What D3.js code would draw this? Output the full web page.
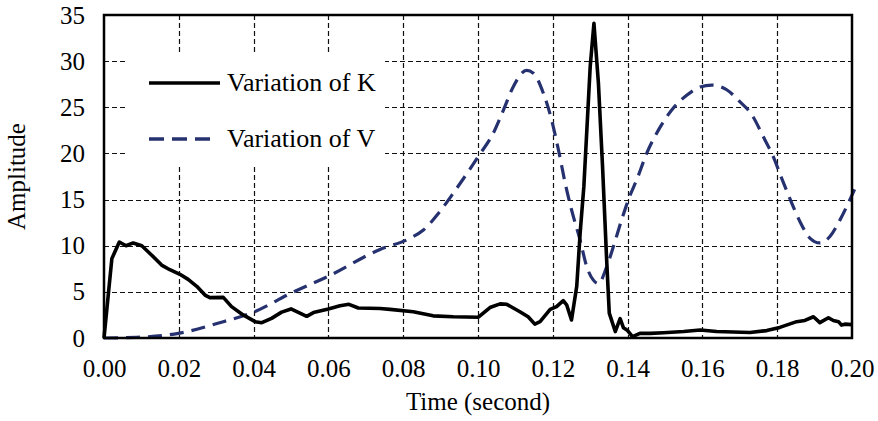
<!DOCTYPE html>
<head>
    <meta charset="UTF-8">
    <script src="https://cdnjs.cloudflare.com/ajax/libs/d3/7.8.5/d3.min.js"></script>
    <style>
        body { margin: 0; background: #fff; }
        text { font-family: "Liberation Serif", "Times New Roman", serif; fill: #000; }
    </style>
</head>

<body>
    <svg id="chart"></svg>

    <script>
        //********** DATOS *********************

        var xTicks = [0, 0.02, 0.04, 0.06, 0.08, 0.10, 0.12, 0.14, 0.16, 0.18, 0.20];
        var yTicks = [0, 5, 10, 15, 20, 25, 30, 35];
        var seriesNames = ["Variation of K", "Variation of V"];

        // Variation of K  [time, amplitude]
        var kTime = [0, 0.0021, 0.0041, 0.0059, 0.0078, 0.0101, 0.0127, 0.0154, 0.0176, 0.0203,
            0.0225, 0.0248, 0.027, 0.0283, 0.0319, 0.0341, 0.0372, 0.0404, 0.0422, 0.0448,
            0.0475, 0.05, 0.0542, 0.056, 0.06, 0.0631, 0.0655, 0.068, 0.0738, 0.0765,
            0.0827, 0.088, 0.0934, 0.1001, 0.1032, 0.1059, 0.1077, 0.1112, 0.1134, 0.1152,
            0.1166, 0.1193, 0.121, 0.1228, 0.1237, 0.125, 0.1264, 0.1273, 0.1283, 0.130,
            0.131, 0.1322, 0.1333, 0.1344, 0.1351, 0.1367, 0.138, 0.1389, 0.14, 0.1413,
            0.1433, 0.146, 0.1496, 0.155, 0.1594, 0.1638, 0.1727, 0.1772, 0.1807, 0.1852,
            0.1874, 0.1897, 0.1914, 0.1937, 0.195, 0.1964, 0.1972, 0.1981, 0.20];
        var kValues = [0, 8.6, 10.4, 10.0, 10.3, 10.0, 9.0, 7.9, 7.4, 6.9,
            6.35, 5.6, 4.65, 4.37, 4.4, 3.4, 2.5, 1.77, 1.66, 2.13,
            2.8, 3.15, 2.35, 2.75, 3.15, 3.5, 3.65, 3.25, 3.2, 3.1,
            2.85, 2.4, 2.3, 2.25, 3.3, 3.7, 3.65, 2.85, 2.3, 1.5,
            1.77, 3.1, 3.4, 4.05, 3.6, 1.95, 5.6, 11.3, 16.4, 29.4,
            34.1, 27.6, 18.6, 8.45, 2.7, 0.7, 2.1, 1.1, 0.8, 0.15,
            0.5, 0.5, 0.57, 0.7, 0.87, 0.7, 0.6, 0.8, 1.15, 1.77,
            1.9, 2.3, 1.66, 2.2, 1.9, 1.77, 1.4, 1.5, 1.45];

        // Variation of V  [time, amplitude]
        var vTime = [0, 0.0087, 0.0199, 0.0319, 0.04, 0.0497, 0.06, 0.0738, 0.0818, 0.0854,
            0.0894, 0.0934, 0.097, 0.1003, 0.1041, 0.1068, 0.1094, 0.113, 0.1148, 0.1175,
            0.1197, 0.1215, 0.1233, 0.125, 0.1273, 0.1291, 0.1308, 0.1322, 0.1344, 0.1362,
            0.1384, 0.1406, 0.1424, 0.1451, 0.1482, 0.1518, 0.1558, 0.1594, 0.1625, 0.1665,
            0.17, 0.1732, 0.1763, 0.179, 0.1812, 0.1834, 0.1861, 0.1888, 0.1914, 0.1941,
            0.1968, 0.199, 0.2007];
        var vValues = [0, 0.07, 0.5, 1.77, 2.8, 4.8, 6.7, 9.6, 10.8, 11.7,
            13.5, 15.7, 17.8, 19.8, 22.2, 24.7, 27.2, 29.0, 28.7, 26.5,
            23.6, 20.4, 16.8, 13.9, 10.6, 7.7, 6.3, 5.9, 7.7, 9.9,
            12.8, 15.4, 17.1, 20.0, 22.5, 24.7, 26.3, 27.2, 27.4, 26.9,
            25.6, 24.2, 21.8, 19.6, 17.3, 15.1, 12.6, 10.8, 10.3, 11.0,
            12.8, 14.6, 16.1];

        //********** DEFINICIONES *********************

        var width = 878, height = 421;
        var margin = { top: 15, right: 26, bottom: 83, left: 104 };
        var innerW = width - margin.left - margin.right;
        var innerH = height - margin.top - margin.bottom;
        var colorK = "#000000", colorV = "#263170";

        var svg = d3.select("#chart")
            .attr("width", width)
            .attr("height", height);

        var g = svg.append("g")
            .attr("transform", "translate(" + margin.left + "," + margin.top + ")");

        var x = d3.scaleLinear().domain([0, 0.20]).range([0, innerW]);
        var y = d3.scaleLinear().domain([0, 35]).range([innerH, 0]);

        //********** GRILLA *********************

        g.append("g")
            .attr("class", "grid")
            .selectAll("line")
            .data(xTicks.slice(1, -1))
            .enter().append("line")
            .attr("x1", function (d) { return Math.round(x(d)) + 0.5; })
            .attr("x2", function (d) { return Math.round(x(d)) + 0.5; })
            .attr("y1", 0).attr("y2", innerH);

        g.append("g")
            .attr("class", "grid")
            .selectAll("line")
            .data(yTicks.slice(1, -1))
            .enter().append("line")
            .attr("y1", function (d) { return Math.round(y(d)) + 0.5; })
            .attr("y2", function (d) { return Math.round(y(d)) + 0.5; })
            .attr("x1", 0).attr("x2", innerW);

        g.selectAll(".grid line")
            .style("stroke", "#111")
            .style("stroke-width", 1.2)
            .style("stroke-dasharray", "5,3");

        //********** LEYENDA (fondo blanco tapa la grilla) *********************

        var legend = g.append("g");
        legend.append("rect")
            .attr("x", 23).attr("y", 39)
            .attr("width", 258).attr("height", 112)
            .style("fill", "#fff");

        var legendRows = [
            { name: seriesNames[0], color: colorK, dash: null, x2: 116, ly: 68 },
            { name: seriesNames[1], color: colorV, dash: "15,8", x2: 107, ly: 124 }
        ];
        legendRows.forEach(function (r) {
            legend.append("line")
                .attr("x1", 45).attr("x2", r.x2)
                .attr("y1", r.ly).attr("y2", r.ly)
                .style("stroke", r.color)
                .style("stroke-width", 3.5)
                .style("stroke-dasharray", r.dash);
            legend.append("text")
                .attr("x", 123).attr("y", r.ly + 8)
                .style("font-size", "26px")
                .text(r.name);
        });

        //********** LINEAS *********************

        var kData = kTime.map(function (t, i) { return [t, kValues[i]]; });
        var vData = vTime.map(function (t, i) { return [t, vValues[i]]; });

        var lineK = d3.line()
            .x(function (d) { return x(d[0]); })
            .y(function (d) { return y(d[1]); });

        var lineV = d3.line()
            .curve(d3.curveMonotoneX)
            .x(function (d) { return x(d[0]); })
            .y(function (d) { return y(d[1]); });

        g.append("path")
            .datum(vData)
            .attr("d", lineV)
            .style("fill", "none")
            .style("stroke", colorV)
            .style("stroke-width", 3.2)
            .style("stroke-dasharray", "14,8");

        g.append("path")
            .datum(kData)
            .attr("d", lineK)
            .style("fill", "none")
            .style("stroke", colorK)
            .style("stroke-width", 3.6)
            .style("stroke-linejoin", "round");

        //********** MARCO Y EJES *********************

        g.append("rect")
            .attr("x", 0).attr("y", 0)
            .attr("width", innerW).attr("height", innerH)
            .style("fill", "none")
            .style("stroke", "#000")
            .style("stroke-width", 2.5);

        var xAxis = g.append("g")
            .attr("transform", "translate(0," + innerH + ")")
            .call(d3.axisBottom(x).tickValues(xTicks).tickFormat(d3.format(".2f"))
                .tickSize(0).tickPadding(21));

        var yAxis = g.append("g")
            .call(d3.axisLeft(y).tickValues(yTicks).tickSize(0).tickPadding(19));

        [xAxis, yAxis].forEach(function (a) {
            a.select(".domain").remove();
            a.selectAll("text")
                .style("font-family", "'Liberation Serif', 'Times New Roman', serif")
                .style("font-size", "25px")
                .attr("fill", "#000");
        });

        svg.append("text")
            .attr("x", margin.left + innerW / 2)
            .attr("y", 410)
            .attr("text-anchor", "middle")
            .style("font-size", "25px")
            .text("Time (second)");

        svg.append("text")
            .attr("transform", "translate(25," + (margin.top + innerH / 2) + ") rotate(-90)")
            .attr("text-anchor", "middle")
            .style("font-size", "25px")
            .text("Amplitude");

    </script>
</body>
